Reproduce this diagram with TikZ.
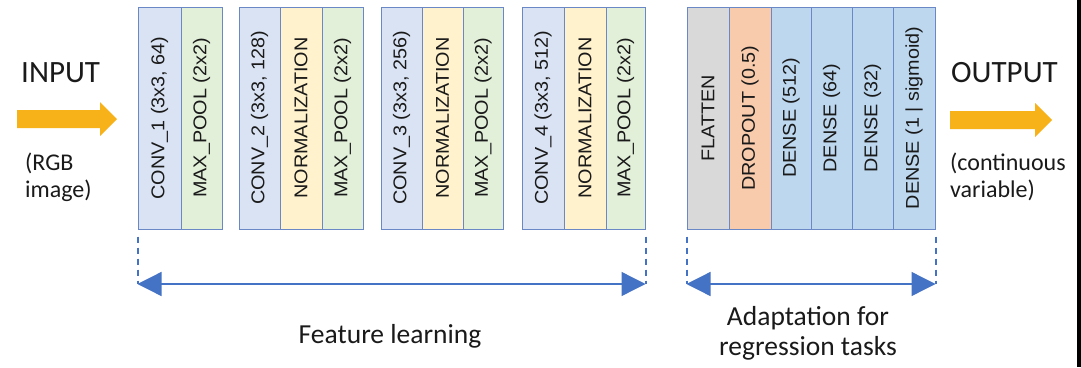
\documentclass[tikz,border=0pt]{standalone}
\usepackage{fontspec}
\setmainfont{Carlito}
\newfontfamily\layerfont{Liberation Sans}
\usetikzlibrary{arrows.meta}

\definecolor{edgeblue}{HTML}{6A88C6}
\definecolor{linkblue}{HTML}{4472C4}
\definecolor{convfill}{HTML}{DAE3F3}
\definecolor{poolfill}{HTML}{E2F0D9}
\definecolor{normfill}{HTML}{FFF2CC}
\definecolor{flatfill}{HTML}{D9D9D9}
\definecolor{dropfill}{HTML}{F8CBAD}
\definecolor{densefill}{HTML}{BDD7EE}
\definecolor{flowarrow}{HTML}{F7B21A}
\definecolor{inktext}{HTML}{1A1A1A}

\tikzset{
  layer/.style={draw=edgeblue, line width=1pt, rotate=90, inner sep=0pt,
    minimum width=222pt, text=inktext,
    font=\layerfont\fontsize{18.5}{21}\selectfont},
  conv/.style={layer, fill=convfill},
  pool/.style={layer, fill=poolfill},
  norm/.style={layer, fill=normfill},
  flat/.style={layer, fill=flatfill},
  drop/.style={layer, fill=dropfill},
  dense/.style={layer, fill=densefill},
  guide/.style={draw=linkblue, line width=2pt, dash pattern=on 6pt off 5pt},
  span/.style={draw=linkblue, line width=1.3pt,
    {Triangle[length=24pt,width=24pt]}-{Triangle[length=24pt,width=24pt]}},
  bigtext/.style={text=inktext, font=\fontsize{31}{34}\selectfont, inner sep=0pt},
  smalltext/.style={text=inktext, font=\fontsize{24}{28}\selectfont, inner sep=0pt, align=left},
  captext/.style={text=inktext, font=\fontsize{27.5}{31}\selectfont, inner sep=0pt, align=center},
}

% a layer column: #1 style, #2 name, #3 left edge, #4 right edge, #5 label
\newcommand{\layercol}[5]{%
  \node[#1, minimum height={#4pt-#3pt}] (#2) at ({(#3+#4)/2},118)
    {\scalebox{1.07}[1]{#5}};}

\begin{document}
\begin{tikzpicture}[x=1pt,y=-1pt]
\useasboundingbox (0,0) rectangle (1081,367);
\fill[white] (0,0) rectangle (1081,367);
\fill[black] (1077,0) rectangle (1081,367);

% feature-learning blocks
\layercol{conv}{c1}{138}{181}{CONV\_1 (3x3, 64)}
\layercol{pool}{p1}{181}{222}{MAX\_POOL (2x2)}

\layercol{conv}{c2}{239}{280}{CONV\_2 (3x3, 128)}
\layercol{norm}{n2}{280}{322}{NORMALIZATION}
\layercol{pool}{p2}{322}{363}{MAX\_POOL (2x2)}

\layercol{conv}{c3}{381}{422}{CONV\_3 (3x3, 256)}
\layercol{norm}{n3}{422}{463}{NORMALIZATION}
\layercol{pool}{p3}{463}{503}{MAX\_POOL (2x2)}

\layercol{conv}{c4}{522}{564}{CONV\_4 (3x3, 512)}
\layercol{norm}{n4}{564}{606}{NORMALIZATION}
\layercol{pool}{p4}{606}{645}{MAX\_POOL (2x2)}

% regression head
\layercol{flat}{f5}{687}{729}{FLATTEN}
\layercol{drop}{d5}{729}{771}{DROPOUT (0.5)}
\layercol{dense}{e1}{771}{811}{DENSE (512)}
\layercol{dense}{e2}{811}{852}{DENSE (64)}
\layercol{dense}{e3}{852}{893}{DENSE (32)}
\layercol{dense}{e4}{893}{935}{DENSE (1 | sigmoid)}

% span markers (columns are rotated: north west = lower left, south west = lower right)
\coordinate (gfl) at ([yshift=-7pt]c1.north west);
\coordinate (gfr) at ([yshift=-7pt]p4.south west);
\coordinate (gal) at ([yshift=-7pt]f5.north west);
\coordinate (gar) at ([yshift=-7pt]e4.south west);
\coordinate (fl) at (gfl |- 0,284);
\coordinate (fr) at (gfr |- 0,284);
\coordinate (al) at (gal |- 0,284);
\coordinate (ar) at (gar |- 0,284);
\draw[guide] (gfl) -- (fl);
\draw[guide] (gfr) -- (fr);
\draw[guide] (gal) -- (al);
\draw[guide] (gar) -- (ar);
\draw[span] (fl) -- (fr);
\draw[span] (al) -- (ar);

\node[captext, anchor=base] (feat) at (390,343) {Feature learning};
\node[captext, anchor=base] (adapt1) at (808,325) {Adaptation for};
\node[captext, anchor=base] (adapt2) at (808,355) {regression tasks};

% input side
\node[bigtext, anchor=base west] (inp) at (21,82) {INPUT};
\fill[flowarrow] (17,110) -- (100,110) -- (100,102) -- (117,119) -- (100,136)
  -- (100,128) -- (17,128) -- cycle;
\node[smalltext, anchor=base west] (rgb1) at (25,170) {(RGB};
\node[smalltext, anchor=base west] (rgb2) at (25,197) {image)};

% output side
\node[bigtext, anchor=base west] (outp) at (951,82) {OUTPUT};
\fill[flowarrow] (950,111) -- (1035,111) -- (1035,103) -- (1052,120) -- (1035,137)
  -- (1035,129) -- (950,129) -- cycle;
\node[smalltext, anchor=base west] (cv1) at (950,170) {(continuous};
\node[smalltext, anchor=base west] (cv2) at (950,197) {variable)};
\end{tikzpicture}
\end{document}
